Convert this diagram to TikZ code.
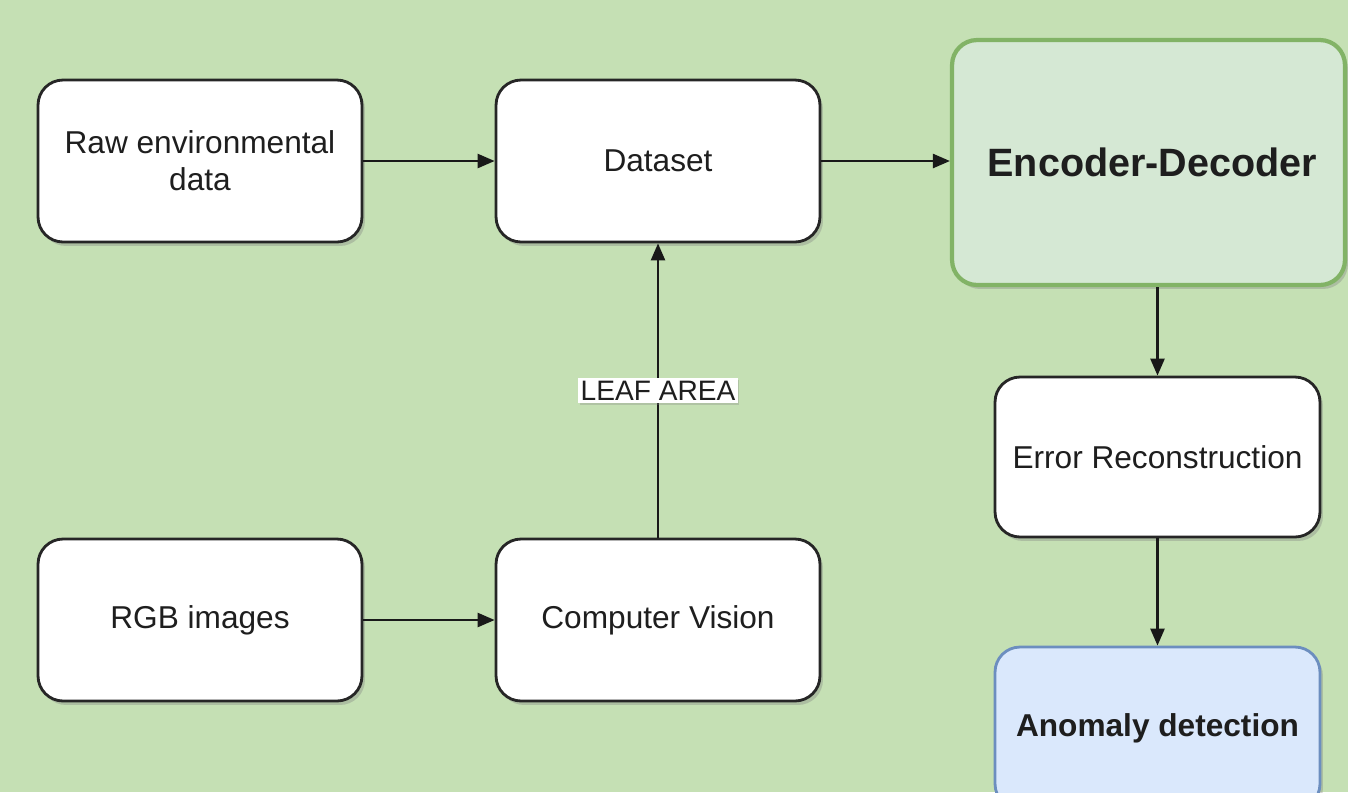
\documentclass[tikz,border=0pt]{standalone}
\usepackage{fontspec}
\setmainfont{Liberation Sans}
\usetikzlibrary{arrows.meta,shadows}
\definecolor{bg}{HTML}{C5E0B4}
\definecolor{encfill}{HTML}{D5E8D4}
\definecolor{encdraw}{HTML}{82B366}
\definecolor{anfill}{HTML}{DAE8FC}
\definecolor{andraw}{HTML}{6C8EBF}
\definecolor{txt}{HTML}{1E1E1E}
\tikzset{
  box/.style={draw=black!85, line width=1.6pt, fill=white, rounded corners=0.5cm,
    align=center, text=txt, font=\fontsize{18}{21}\selectfont,
    drop shadow={opacity=0.35, shadow xshift=0.06cm, shadow yshift=-0.08cm}},
  stdbox/.style={box, minimum width=6.48cm, minimum height=3.24cm},
  arr/.style={line width=1.4pt, draw=black!90, -{Triangle[length=0.34cm,width=0.28cm]}},
  lbl/.style={fill=white, text=txt, font=\fontsize{16}{18}\selectfont, inner sep=1.5pt,
    drop shadow={opacity=0.3, shadow xshift=0.03cm, shadow yshift=-0.04cm}}
}
\begin{document}
\begin{tikzpicture}[x=0.02cm,y=-0.02cm]
\useasboundingbox (0,0) rectangle (1348,792);
\fill[bg] (0,0) rectangle (1348,792);
\clip (0,0) rectangle (1348,792);
\node[stdbox] (raw) at (200,161) {Raw environmental\\data};
\node[stdbox] (ds) at (658,161) {Dataset};
\node[stdbox] (rgb) at (200,620) {RGB images};
\node[stdbox] (cv) at (658,620) {Computer Vision};
\node[box, draw=encdraw, fill=encfill, line width=2.4pt, minimum width=7.86cm, minimum height=4.9cm,
  font=\bfseries\fontsize{22.5}{26}\selectfont] (enc) at (1148.5,162.5) {\hspace*{0.15cm}Encoder-Decoder};
\node[box, minimum width=6.5cm, minimum height=3.2cm] (err) at (1157.5,457) {Error Reconstruction};
\node[box, draw=andraw, fill=anfill, minimum width=6.5cm, minimum height=3.24cm,
  font=\bfseries\fontsize{18}{21}\selectfont] (an) at (1157.5,728) {Anomaly detection};
\draw[arr] (raw) -- (ds);
\draw[arr] (ds.east) -- (enc.west |- ds.east);
\draw[arr] (rgb) -- (cv);
\draw[arr] (cv) -- node[lbl] (la) {LEAF AREA} (ds);
\draw[arr] (enc.south -| err.north) -- (err.north);
\draw[arr] (err) -- (an);
\end{tikzpicture}
\end{document}
